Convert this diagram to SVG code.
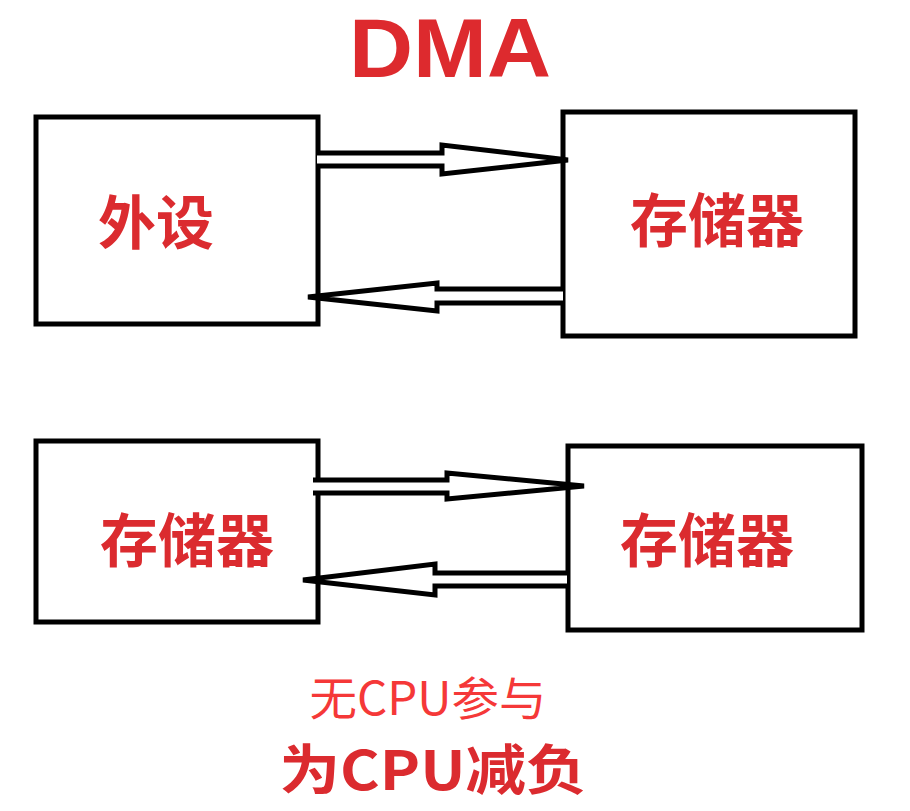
<svg xmlns="http://www.w3.org/2000/svg" width="910" height="811" viewBox="0 0 910 811">
<style>
.box{fill:#fff;stroke:#000;stroke-width:5}
.arr{fill:#fff;stroke:#000;stroke-width:5;stroke-linejoin:miter}
.lbl{font-family:"Noto Sans CJK SC","Liberation Sans",sans-serif;font-weight:bold;fill:#db2b2f;font-size:58px;text-anchor:middle}
</style>
<rect width="910" height="811" fill="#fff"/>
<text id="title" x="450" y="77" font-family="Liberation Sans, Arial, sans-serif" font-weight="bold" font-size="84" fill="#dd2a2e" text-anchor="middle" textLength="202" lengthAdjust="spacingAndGlyphs">DMA</text>
<g id="node-waishe"><rect class="box" x="36" y="117" width="282" height="207"/><text class="lbl" x="156" y="244">外设</text></g>
<g id="node-mem1"><rect class="box" x="563" y="112" width="292" height="224"/><text class="lbl" x="717" y="242">存储器</text></g>
<g id="node-mem2"><rect class="box" x="36" y="441" width="282" height="181"/><text class="lbl" x="187" y="562">存储器</text></g>
<g id="node-mem3"><rect class="box" x="568" y="446" width="294" height="184"/><text class="lbl" x="707" y="562">存储器</text></g>
<g id="connectors">
<path class="arr" d="M317,153 L442,153 L442,145 L568,160 L442,174 L442,166 L317,166"/>
<path class="arr" d="M563,289 L437,289 L437,283 L308,297 L437,311 L437,303 L563,303"/>
<path class="arr" d="M313,480 L447,480 L447,473 L584,486 L447,499 L447,493 L313,493"/>
<path class="arr" d="M567,573 L435,573 L435,564 L303,580 L435,595 L435,586 L567,586"/>
</g>
<text id="note1" x="428" y="715" font-family="Noto Sans CJK SC, sans-serif" font-size="46" fill="#f53838" text-anchor="middle" textLength="237" lengthAdjust="spacingAndGlyphs">无CPU参与</text>
<text id="note2" x="433" y="790" font-family="Noto Sans CJK SC, sans-serif" font-weight="bold" font-size="54" fill="#db2b2f" text-anchor="middle" textLength="307" lengthAdjust="spacingAndGlyphs">为CPU减负</text>
</svg>
